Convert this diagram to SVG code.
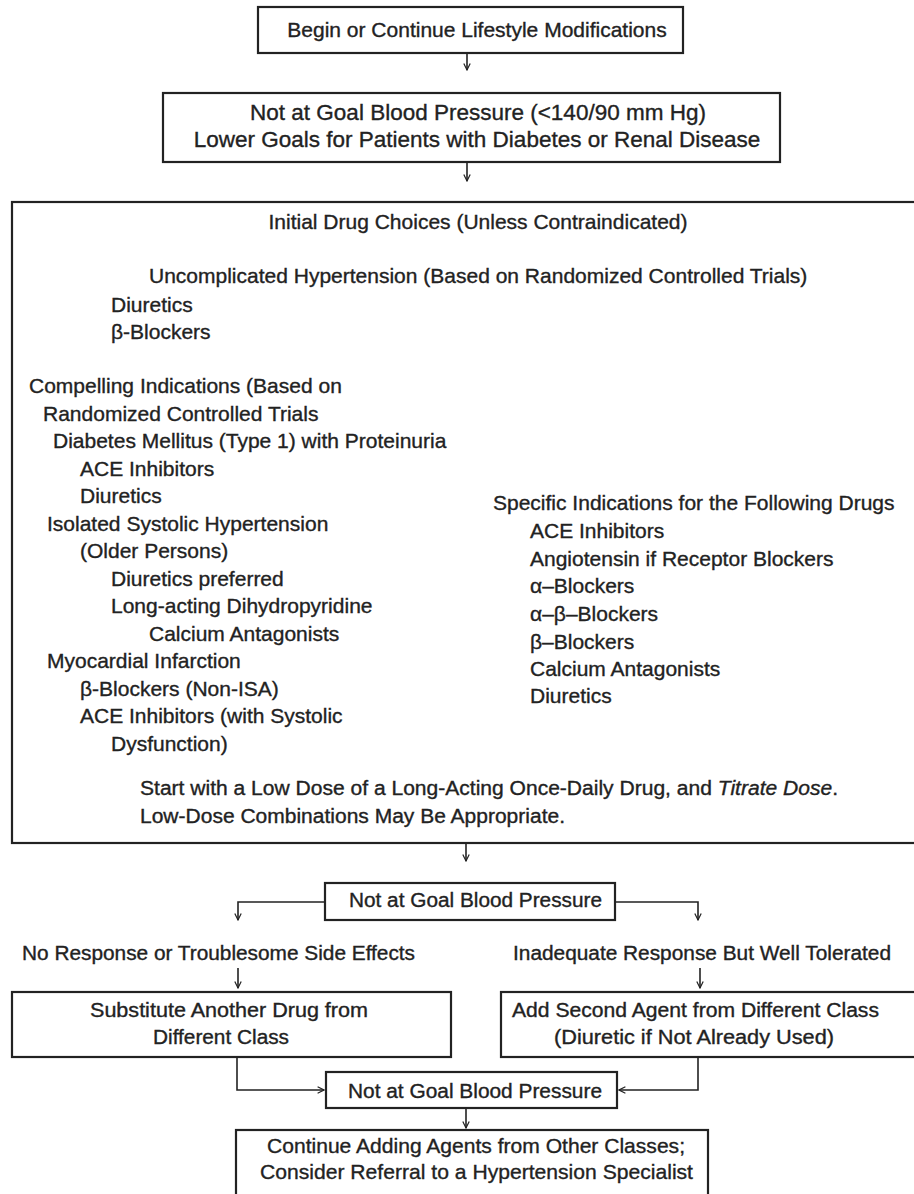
<svg xmlns="http://www.w3.org/2000/svg" width="914" height="1194" viewBox="0 0 914 1194">
<defs>
<marker id="ah" viewBox="0 0 10 10" refX="9" refY="5" markerWidth="8" markerHeight="8" markerUnits="userSpaceOnUse" orient="auto">
<path d="M1,1 L9,5 L1,9" fill="none" stroke="#222" stroke-width="1.5"/>
</marker>
<style>
rect.box{fill:#fff;stroke:#222;stroke-width:2.2}
text{font-family:"Liberation Sans",Arial,sans-serif;font-size:21px;fill:#222;stroke:#222;stroke-width:0.35}
text.c{text-anchor:middle}
text.n{font-size:20px}
text.b{font-size:22.5px}
.con path{fill:none;stroke:#222;stroke-width:1.6}
</style>
</defs>
<rect width="914" height="1194" fill="#fff"/>
<g id="n1">
<rect class="box" x="258" y="7" width="425" height="46"/>
<text class="c" x="477" y="37">Begin or Continue Lifestyle Modifications</text>
</g>
<g id="n2">
<rect class="box" x="163" y="93" width="617" height="69"/>
<text class="c b" x="478" y="120">Not at Goal Blood Pressure (&lt;140/90 mm Hg)</text>
<text class="c b" x="477" y="147">Lower Goals for Patients with Diabetes or Renal Disease</text>
</g>
<g id="n3">
<rect class="box" x="12" y="202" width="906" height="641"/>
<text class="c" x="478" y="229">Initial Drug Choices (Unless Contraindicated)</text>
<text x="149" y="283">Uncomplicated Hypertension (Based on Randomized Controlled Trials)</text>
<text x="111" y="312">Diuretics</text>
<text x="111" y="339">β-Blockers</text>
<text x="29" y="393">Compelling Indications (Based on</text>
<text x="43" y="421">Randomized Controlled Trials</text>
<text x="53" y="448">Diabetes Mellitus (Type 1) with Proteinuria</text>
<text x="80" y="476">ACE Inhibitors</text>
<text x="80" y="503">Diuretics</text>
<text x="47" y="531">Isolated Systolic Hypertension</text>
<text x="80" y="558">(Older Persons)</text>
<text x="111" y="586">Diuretics preferred</text>
<text x="111" y="613">Long-acting Dihydropyridine</text>
<text x="149" y="641">Calcium Antagonists</text>
<text x="47" y="668">Myocardial Infarction</text>
<text x="80" y="696">β-Blockers (Non-ISA)</text>
<text x="80" y="723">ACE Inhibitors (with Systolic</text>
<text x="111" y="751">Dysfunction)</text>
<text x="493" y="510">Specific Indications for the Following Drugs</text>
<text x="530" y="538">ACE Inhibitors</text>
<text x="530" y="566">Angiotensin if Receptor Blockers</text>
<text x="530" y="593">α–Blockers</text>
<text x="530" y="621">α–β–Blockers</text>
<text x="530" y="649">β–Blockers</text>
<text x="530" y="676">Calcium Antagonists</text>
<text x="530" y="703">Diuretics</text>
<text class="n" x="140" y="795" textLength="698" lengthAdjust="spacingAndGlyphs">Start with a Low Dose of a Long-Acting Once-Daily Drug, and <tspan font-style="italic">Titrate Dose</tspan>.</text>
<text class="n" x="140" y="823" textLength="425" lengthAdjust="spacingAndGlyphs">Low-Dose Combinations May Be Appropriate.</text>
</g>
<g id="n4">
<rect class="box" x="325" y="883" width="290" height="37"/>
<text class="n" x="349" y="907" textLength="253" lengthAdjust="spacingAndGlyphs">Not at Goal Blood Pressure</text>
</g>
<g id="l1">
<text class="n" x="22" y="960" textLength="393" lengthAdjust="spacingAndGlyphs">No Response or Troublesome Side Effects</text>
</g>
<g id="l2">
<text class="n" x="513" y="960" textLength="378" lengthAdjust="spacingAndGlyphs">Inadequate Response But Well Tolerated</text>
</g>
<g id="n5">
<rect class="box" x="12" y="992" width="439" height="65"/>
<text class="n" x="90" y="1017" textLength="278" lengthAdjust="spacingAndGlyphs">Substitute Another Drug from</text>
<text class="n" x="153" y="1044" textLength="136" lengthAdjust="spacingAndGlyphs">Different Class</text>
</g>
<g id="n6">
<rect class="box" x="501" y="992" width="420" height="65"/>
<text class="n" x="512" y="1017" textLength="367" lengthAdjust="spacingAndGlyphs">Add Second Agent from Different Class</text>
<text class="n" x="554" y="1044" textLength="280" lengthAdjust="spacingAndGlyphs">(Diuretic if Not Already Used)</text>
</g>
<g id="n7">
<rect class="box" x="326" y="1072" width="291" height="36"/>
<text class="n" x="348" y="1098" textLength="254" lengthAdjust="spacingAndGlyphs">Not at Goal Blood Pressure</text>
</g>
<g id="n8">
<rect class="box" x="236" y="1130" width="472" height="80"/>
<text x="267" y="1153" textLength="418" lengthAdjust="spacingAndGlyphs">Continue Adding Agents from Other Classes;</text>
<text x="260" y="1179" textLength="433" lengthAdjust="spacingAndGlyphs">Consider Referral to a Hypertension Specialist</text>
</g>
<g id="connectors" class="con">
<path d="M467,53 V70" marker-end="url(#ah)"/>
<path d="M467,162 V181" marker-end="url(#ah)"/>
<path d="M466,843 V861" marker-end="url(#ah)"/>
<path d="M325,902 H238 V920" marker-end="url(#ah)"/>
<path d="M615,902 H698 V920" marker-end="url(#ah)"/>
<path d="M238,968 V988" marker-end="url(#ah)"/>
<path d="M700,968 V988" marker-end="url(#ah)"/>
<path d="M237,1057 V1090 H324" marker-end="url(#ah)"/>
<path d="M698,1057 V1090 H619" marker-end="url(#ah)"/>
<path d="M466,1108 V1128" marker-end="url(#ah)"/>
</g>
</svg>
